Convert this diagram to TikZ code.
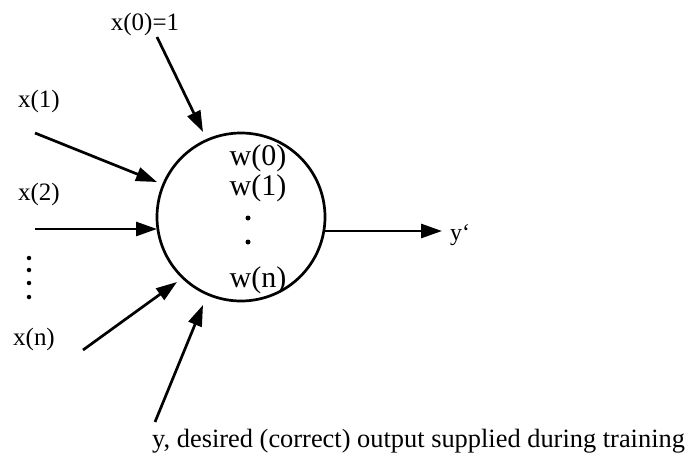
\documentclass[tikz,border=0pt]{standalone}
\usepackage{fontspec}
\setmainfont{Liberation Serif}
\usetikzlibrary{arrows.meta}
\begin{document}
\begin{tikzpicture}[x=1pt,y=-1pt,
  lbl/.style={font=\fontsize{25}{28}\selectfont, inner sep=0pt, anchor=base},
  wlbl/.style={font=\fontsize{30}{33}\selectfont, inner sep=0pt, anchor=base},
  conn/.style={line width=2.7pt, -{Triangle[length=21pt,width=14pt]}},
  dotm/.style={circle, fill=black, inner sep=0pt, minimum size=4.5pt}]
\useasboundingbox (0,0) rectangle (689,461);
% neuron
\node[draw, circle, line width=2.7pt, minimum size=168pt, inner sep=0pt] (neuron) at (241,217) {};
% labels
\node[lbl] (x0) at (145,30) {x(0)=1};
\node[lbl] (x1) at (39,107) {x(1)};
\node[lbl] (x2) at (39,200) {x(2)};
\node[lbl] (xn) at (34,345) {x(n)};
\node[dotm] (d1) at (29,258) {};
\node[dotm] (d2) at (29,270) {};
\node[dotm] (d3) at (29,283) {};
\node[dotm] (d4) at (29,297) {};
\node[wlbl] (w0) at (258,165) {w(0)};
\node[wlbl] (w1) at (258,195) {w(1)};
\node[dotm, minimum size=5pt] (wd1) at (248,218) {};
\node[dotm, minimum size=5pt] (wd2) at (248,242) {};
\node[wlbl] (wn) at (258,287) {w(n)};
\node[lbl, anchor=base west, font=\fontsize{24}{26}\selectfont] (yout) at (450,240) {y\textquoteleft};
\node[lbl, anchor=base west, font=\fontsize{26.4}{29}\selectfont] (ydes) at (152,447) {y, desired (correct) output supplied during training};
% connector ends
\coordinate (t0) at (157,37);   \coordinate (h0) at (203,132);
\coordinate (t1) at (35,133);   \coordinate (h1) at (157,182);
\coordinate (t2) at (35,229);   \coordinate (h2) at (157,229);
\coordinate (tn) at (83,350);   \coordinate (hn) at (177,282);
\coordinate (ty) at (155,422);  \coordinate (hy) at (203,305);
\coordinate (to) at (325,231);  \coordinate (ho) at (442,231);
% connectors
\draw[conn] (t0) -- (h0);
\draw[conn] (t1) -- (h1);
\draw[conn] (t2) -- (h2);
\draw[conn] (tn) -- (hn);
\draw[conn] (ty) -- (hy);
\draw[conn] (to) -- (ho);
\end{tikzpicture}
\end{document}
